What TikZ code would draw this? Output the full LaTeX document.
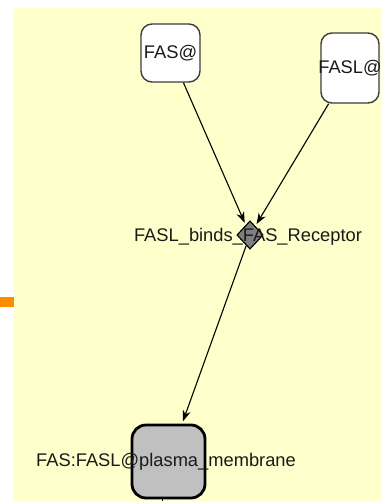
\documentclass[tikz,border=0pt]{standalone}
\usepackage{fontspec}
\setmainfont{Liberation Sans}
\usetikzlibrary{shapes.geometric,arrows.meta}
\definecolor{canvas}{HTML}{FFFFCC}
\definecolor{marker}{HTML}{FF8C00}
\definecolor{cplxfill}{HTML}{C0C0C0}
\definecolor{rxnfill}{HTML}{7F7F7F}
\definecolor{ink}{HTML}{1A1A1A}
\tikzset{
  species/.style={draw=ink!85, line width=1.4pt, fill=white, rounded corners=11pt,
    inner sep=0pt, text=ink},
  complexbox/.style={draw=black, line width=2.8pt, fill=cplxfill, rounded corners=14pt,
    inner sep=0pt, minimum width=73pt, minimum height=73pt},
  reaction/.style={diamond, draw=black, line width=1pt, fill=rxnfill, inner sep=0pt,
    minimum width=26pt, minimum height=28pt},
  lbl/.style={text=ink, inner sep=0pt},
  flow/.style={draw=black, line width=1.1pt, -{Stealth[length=11pt,width=8pt]}},
  every node/.style={font=\fontsize{18.3}{20}\selectfont}
}
\begin{document}
\begin{tikzpicture}[x=1pt,y=-1pt]
  \useasboundingbox (0,0) rectangle (381,501);
  \clip (0,0) rectangle (381,501);
  % canvas and side marker
  \fill[canvas] (14,8) rectangle (390,510);
  \fill[marker] (0,297) rectangle (14,307);

  % species
  \node[species, minimum width=59pt, minimum height=58pt] (fas) at (170.5,53) {};
  \node[lbl] (faslbl) at (fas.center) {FAS@};
  \node[species, minimum width=58pt, minimum height=70pt] (fasl) at (350,68) {};
  \node[lbl] (fasllbl) at (fasl.center) {FASL@};

  % reaction
  \node[reaction] (rxn) at (250,235) {};

  % complex
  \node[complexbox] (cplx) at (168.5,461.5) {};
  \coordinate (out) at (162,515);
  \draw[line width=1pt] (162,498) coordinate (stub) -- (out);

  % connectors
  \draw[flow, shorten >=2.5pt] (fas) -- (rxn);
  \draw[flow, shorten >=2.5pt] (fasl) -- (rxn);
  \draw[flow, shorten >=2.5pt] (rxn) -- (cplx);

  % labels on top
  \node[reaction] (rxn2) at (rxn.center) {};
  \node[lbl] (rxnlbl) at (248,237) {FASL\_binds\_FAS\_Receptor};
  \node[lbl] (cplxlbl) at (166,462) {FAS:FASL@plasma\_membrane};
\end{tikzpicture}
\end{document}
